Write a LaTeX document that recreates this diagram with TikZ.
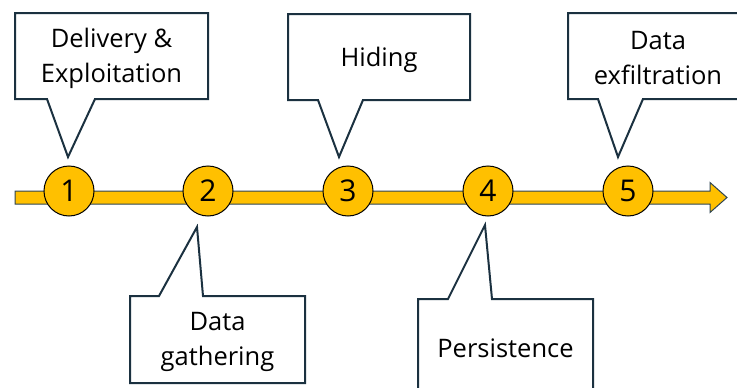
\documentclass[tikz,border=0pt]{standalone}
\usepackage{fontspec}
\setmainfont{Open Sans}
\usetikzlibrary{calc}
\definecolor{amber}{HTML}{FFC000}
\definecolor{calloutline}{HTML}{1B3140}
\definecolor{shaftline}{HTML}{2E4553}

\begin{document}
\begin{tikzpicture}[x=1pt,y=-1pt,
  calloutbox/.style={rectangle, draw=none, inner sep=0pt, outer sep=0pt,
    align=center, font=\fontsize{25.5}{35}\selectfont},
  callouttext/.style={calloutbox, yshift=-2.5pt},
  calloutedge/.style={draw=calloutline, fill=white, line width=2pt, line join=miter},
  stage/.style={circle, fill=amber, draw=black, line width=1pt, minimum size=50pt,
    inner sep=0pt, font=\fontsize{30}{30}\selectfont},
  timeline/.style={fill=amber, draw=shaftline, line width=1pt, line join=miter}]
  \useasboundingbox (0,0) rectangle (737,388);
  \clip (0,0) rectangle (737,388);

  % timeline arrow
  \coordinate (start) at (15,197.5);
  \coordinate (end) at (727,197.5);
  \path[timeline] ($(start)+(0,-6.5)$) -- ($(end)+(-17,-6.5)$) -- ($(end)+(-17,-15)$)
    -- (end) -- ($(end)+(-17,15)$) -- ($(end)+(-17,6.5)$) -- ($(start)+(0,6.5)$) -- cycle;

  % stages
  \node[stage] (n1) at (69,191) {1};
  \node[stage] (n2) at (208,191) {2};
  \node[stage] (n3) at (348,191) {3};
  \node[stage] (n4) at (488,191) {4};
  \node[stage] (n5) at (628,191) {5};

  % callout tips
  \coordinate (t1) at (68,157);
  \coordinate (t2) at (197,227);
  \coordinate (t3) at (339,157);
  \coordinate (t4) at (485,225);
  \coordinate (t5) at (618,157);

  % callouts above the line
  \node[calloutbox, minimum width=193pt, minimum height=86pt] (b1) at (111.5,56) {};
  \draw[calloutedge] (b1.north west) -- (b1.north east) -- (b1.south east)
    -- ($(b1.south west)+(80,0)$) -- (t1) -- ($(b1.south west)+(32,0)$) -- (b1.south west) -- cycle;
  \node[callouttext] at (b1) {Delivery \&\\Exploitation};

  \node[calloutbox, minimum width=182pt, minimum height=86pt] (b3) at (379,57) {};
  \draw[calloutedge] (b3.north west) -- (b3.north east) -- (b3.south east)
    -- ($(b3.south west)+(75,0)$) -- (t3) -- ($(b3.south west)+(30,0)$) -- (b3.south west) -- cycle;
  \node[callouttext] at (b3) {Hiding};

  \node[calloutbox, minimum width=180pt, minimum height=86pt] (b5) at (658,56) {};
  \draw[calloutedge] (b5.north west) -- (b5.north east) -- (b5.south east)
    -- ($(b5.south west)+(75,0)$) -- (t5) -- ($(b5.south west)+(30,0)$) -- (b5.south west) -- cycle;
  \node[callouttext] at (b5) {Data\\exfiltration};

  % callouts below the line
  \node[calloutbox, minimum width=175pt, minimum height=87pt] (b2) at (217.5,339.5) {};
  \draw[calloutedge] (b2.south west) -- (b2.south east) -- (b2.north east)
    -- ($(b2.north west)+(73,0)$) -- (t2) -- ($(b2.north west)+(29,0)$) -- (b2.north west) -- cycle;
  \node[callouttext] at (b2) {Data\\gathering};

  \node[calloutbox, minimum width=175pt, minimum height=93pt] (b4) at (505.5,345.5) {};
  \draw[calloutedge] (b4.south west) -- (b4.south east) -- (b4.north east)
    -- ($(b4.north west)+(74,0)$) -- (t4) -- ($(b4.north west)+(30,0)$) -- (b4.north west) -- cycle;
  \node[callouttext] at (b4) {Persistence};
\end{tikzpicture}
\end{document}
